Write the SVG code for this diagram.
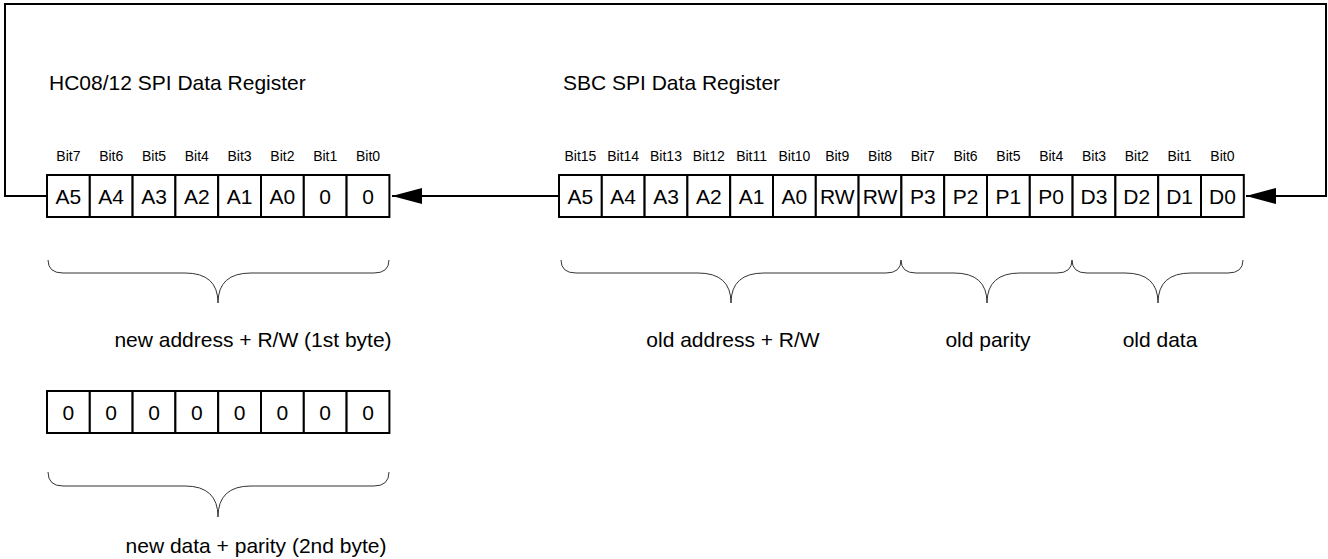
<svg xmlns="http://www.w3.org/2000/svg" width="1328" height="559" viewBox="0 0 1328 559">
<defs>
<style>
.cell{fill:#fff;stroke:#000;stroke-width:2}
.ct{font-family:"Liberation Sans",Arial,sans-serif;font-size:21px;text-anchor:middle;fill:#000}
.bit{font-family:"Liberation Sans",Arial,sans-serif;font-size:14px;text-anchor:middle;fill:#000}
.title{font-family:"Liberation Sans",Arial,sans-serif;font-size:21px;fill:#000}
.lbl{font-family:"Liberation Sans",Arial,sans-serif;font-size:21px;text-anchor:middle;fill:#000}
.brace{fill:none;stroke:#333;stroke-width:1}
.conn{fill:none;stroke:#000;stroke-width:2}
</style>
<marker id="arr" markerUnits="userSpaceOnUse" markerWidth="32" markerHeight="18" refX="30" refY="9" orient="auto">
<path d="M0,1 L30,9 L0,17 Z" fill="#000"/>
</marker>
</defs>
<rect width="1328" height="559" fill="#fff"/>

<g id="connectors">
<path class="conn" d="M559,196 H392" marker-end="url(#arr)"/>
<path class="conn" d="M47,196 H5 V4 H1326 V196 H1246" marker-end="url(#arr)"/>
</g>

<g id="hc08-title"><text class="title" x="49" y="90">HC08/12 SPI Data Register</text></g>
<g id="sbc-title"><text class="title" x="563" y="90">SBC SPI Data Register</text></g>

<g id="hc08-register">
<rect class="cell" x="47" y="175" width="42.8" height="42"/>
<rect class="cell" x="89.8" y="175" width="42.8" height="42"/>
<rect class="cell" x="132.6" y="175" width="42.8" height="42"/>
<rect class="cell" x="175.4" y="175" width="42.8" height="42"/>
<rect class="cell" x="218.2" y="175" width="42.8" height="42"/>
<rect class="cell" x="261" y="175" width="42.8" height="42"/>
<rect class="cell" x="303.8" y="175" width="42.8" height="42"/>
<rect class="cell" x="346.6" y="175" width="42.8" height="42"/>
<text class="bit" x="68.4" y="161">Bit7</text>
<text class="bit" x="111.2" y="161">Bit6</text>
<text class="bit" x="154" y="161">Bit5</text>
<text class="bit" x="196.8" y="161">Bit4</text>
<text class="bit" x="239.6" y="161">Bit3</text>
<text class="bit" x="282.4" y="161">Bit2</text>
<text class="bit" x="325.2" y="161">Bit1</text>
<text class="bit" x="368" y="161">Bit0</text>
<text class="ct" x="68.4" y="203.5">A5</text>
<text class="ct" x="111.2" y="203.5">A4</text>
<text class="ct" x="154" y="203.5">A3</text>
<text class="ct" x="196.8" y="203.5">A2</text>
<text class="ct" x="239.6" y="203.5">A1</text>
<text class="ct" x="282.4" y="203.5">A0</text>
<text class="ct" x="325.2" y="203.5">0</text>
<text class="ct" x="368" y="203.5">0</text>
</g>

<g id="sbc-register">
<rect class="cell" x="559" y="175" width="42.8" height="42"/>
<rect class="cell" x="601.8" y="175" width="42.8" height="42"/>
<rect class="cell" x="644.6" y="175" width="42.8" height="42"/>
<rect class="cell" x="687.4" y="175" width="42.8" height="42"/>
<rect class="cell" x="730.2" y="175" width="42.8" height="42"/>
<rect class="cell" x="773" y="175" width="42.8" height="42"/>
<rect class="cell" x="815.8" y="175" width="42.8" height="42"/>
<rect class="cell" x="858.6" y="175" width="42.8" height="42"/>
<rect class="cell" x="901.4" y="175" width="42.8" height="42"/>
<rect class="cell" x="944.2" y="175" width="42.8" height="42"/>
<rect class="cell" x="987" y="175" width="42.8" height="42"/>
<rect class="cell" x="1029.8" y="175" width="42.8" height="42"/>
<rect class="cell" x="1072.6" y="175" width="42.8" height="42"/>
<rect class="cell" x="1115.4" y="175" width="42.8" height="42"/>
<rect class="cell" x="1158.2" y="175" width="42.8" height="42"/>
<rect class="cell" x="1201" y="175" width="42.8" height="42"/>
<text class="bit" x="580.4" y="161">Bit15</text>
<text class="bit" x="623.2" y="161">Bit14</text>
<text class="bit" x="666" y="161">Bit13</text>
<text class="bit" x="708.8" y="161">Bit12</text>
<text class="bit" x="751.6" y="161">Bit11</text>
<text class="bit" x="794.4" y="161">Bit10</text>
<text class="bit" x="837.2" y="161">Bit9</text>
<text class="bit" x="880" y="161">Bit8</text>
<text class="bit" x="922.8" y="161">Bit7</text>
<text class="bit" x="965.6" y="161">Bit6</text>
<text class="bit" x="1008.4" y="161">Bit5</text>
<text class="bit" x="1051.2" y="161">Bit4</text>
<text class="bit" x="1094" y="161">Bit3</text>
<text class="bit" x="1136.8" y="161">Bit2</text>
<text class="bit" x="1179.6" y="161">Bit1</text>
<text class="bit" x="1222.4" y="161">Bit0</text>
<text class="ct" x="580.4" y="203.5">A5</text>
<text class="ct" x="623.2" y="203.5">A4</text>
<text class="ct" x="666" y="203.5">A3</text>
<text class="ct" x="708.8" y="203.5">A2</text>
<text class="ct" x="751.6" y="203.5">A1</text>
<text class="ct" x="794.4" y="203.5">A0</text>
<text class="ct" x="837.2" y="203.5">RW</text>
<text class="ct" x="880" y="203.5">RW</text>
<text class="ct" x="922.8" y="203.5">P3</text>
<text class="ct" x="965.6" y="203.5">P2</text>
<text class="ct" x="1008.4" y="203.5">P1</text>
<text class="ct" x="1051.2" y="203.5">P0</text>
<text class="ct" x="1094" y="203.5">D3</text>
<text class="ct" x="1136.8" y="203.5">D2</text>
<text class="ct" x="1179.6" y="203.5">D1</text>
<text class="ct" x="1222.4" y="203.5">D0</text>
</g>

<g id="second-byte">
<rect class="cell" x="47" y="391" width="42.8" height="42"/>
<rect class="cell" x="89.8" y="391" width="42.8" height="42"/>
<rect class="cell" x="132.6" y="391" width="42.8" height="42"/>
<rect class="cell" x="175.4" y="391" width="42.8" height="42"/>
<rect class="cell" x="218.2" y="391" width="42.8" height="42"/>
<rect class="cell" x="261" y="391" width="42.8" height="42"/>
<rect class="cell" x="303.8" y="391" width="42.8" height="42"/>
<rect class="cell" x="346.6" y="391" width="42.8" height="42"/>
<text class="ct" x="68.4" y="419.5">0</text>
<text class="ct" x="111.2" y="419.5">0</text>
<text class="ct" x="154" y="419.5">0</text>
<text class="ct" x="196.8" y="419.5">0</text>
<text class="ct" x="239.6" y="419.5">0</text>
<text class="ct" x="282.4" y="419.5">0</text>
<text class="ct" x="325.2" y="419.5">0</text>
<text class="ct" x="368" y="419.5">0</text>
</g>

<g id="brace-new-address">
<path class="brace" d="M48,260 Q48,273 63,273 L185,273 Q218,273 218,303 Q218,273 251,273 L374,273 Q389,273 389,260"/>
<text class="lbl" x="253" y="347">new address + R/W (1st byte)</text>
</g>
<g id="brace-old-address">
<path class="brace" d="M561,260 Q561,273 576,273 L698,273 Q731,273 731,303 Q731,273 764,273 L886,273 Q901,273 901,260"/>
<text class="lbl" x="733" y="347">old address + R/W</text>
</g>
<g id="brace-old-parity">
<path class="brace" d="M901,260 Q901,273 916,273 L954,273 Q987,273 987,303 Q987,273 1020,273 L1057,273 Q1072,273 1072,260"/>
<text class="lbl" x="988" y="347">old parity</text>
</g>
<g id="brace-old-data">
<path class="brace" d="M1072,260 Q1072,273 1087,273 L1125,273 Q1158,273 1158,303 Q1158,273 1191,273 L1228,273 Q1243,273 1243,260"/>
<text class="lbl" x="1160" y="347">old data</text>
</g>
<g id="brace-new-data">
<path class="brace" d="M48,472 Q48,486 63,486 L185,486 Q218,486 218,517 Q218,486 251,486 L374,486 Q389,486 389,472"/>
<text class="lbl" x="256" y="553">new data + parity (2nd byte)</text>
</g>
</svg>
